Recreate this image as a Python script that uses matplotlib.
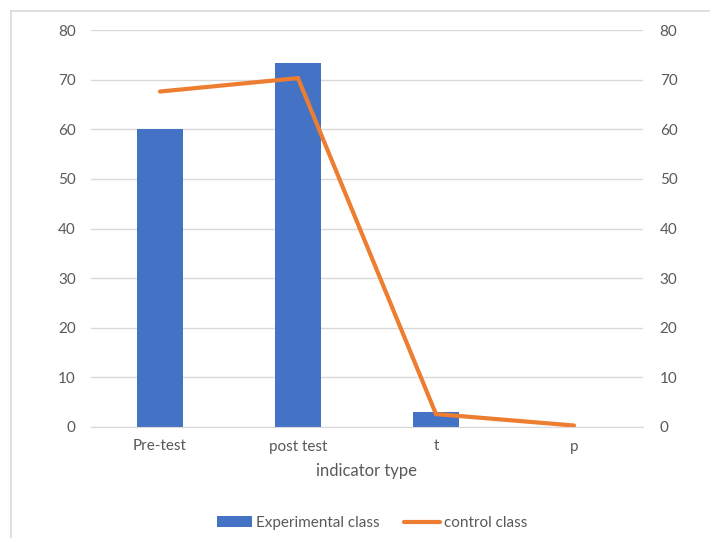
import matplotlib
matplotlib.use("Agg")
import matplotlib.pyplot as plt
from matplotlib.lines import Line2D

# data
categories = ["Pre-test", "post test", "t", "p"]
experimental = [60.0, 73.3, 3.0, 0.0]
control = [676, 703, 26, 3]
left_ticks = [0, 10, 20, 30, 40, 50, 60, 70, 80]
right_ticks = [0, 100, 200, 300, 400, 500, 600, 700, 800]
right_labels = ["0", "10", "20", "30", "40", "50", "60", "70", "80"]

BLUE = "#4472C4"
ORANGE = "#ED7D31"
GRID = "#D9D9D9"
TXT = "#595959"

plt.rcParams["font.family"] = ["Lato", "DejaVu Sans"]

fig = plt.figure(figsize=(7.10, 5.38), dpi=100)
ax = fig.add_axes([91 / 710, 1 - 427 / 538, 552 / 710, 397 / 538])
ax2 = ax.twinx()

x = list(range(len(categories)))
ax.bar(x, experimental, width=0.33, color=BLUE, label="Experimental class", zorder=2)
ax2.plot(x, control, color=ORANGE, lw=3.0, solid_capstyle="round",
         solid_joinstyle="miter", label="control class", zorder=3)

ax.set_xlim(-0.5, len(categories) - 0.5)
ax.set_ylim(0, 80)
ax2.set_ylim(0, 800)
ax.set_yticks(left_ticks)
ax.set_yticklabels([str(v) for v in left_ticks])
ax2.set_yticks(right_ticks)
ax2.set_yticklabels(right_labels)
ax.set_xticks(x)
ax.set_xticklabels(categories)

ax.grid(True, axis="y", color=GRID, lw=1.0, zorder=0)
ax.set_axisbelow(True)
for a in (ax, ax2):
    for s in a.spines.values():
        s.set_visible(False)
ax.spines["bottom"].set_visible(True)
ax.spines["bottom"].set_color(GRID)

ax.tick_params(axis="y", length=0, pad=11, labelsize=11, labelcolor=TXT)
ax2.tick_params(axis="y", length=0, pad=12, labelsize=11, labelcolor=TXT)
ax.tick_params(axis="x", length=0, pad=9, labelsize=11, labelcolor=TXT)
ax.set_xlabel("indicator type", fontsize=12, color=TXT, labelpad=7)

ax.set_zorder(ax2.get_zorder() - 1)
ax2.patch.set_visible(False)

h1, l1 = ax.get_legend_handles_labels()
h2, l2 = ax2.get_legend_handles_labels()
fig.legend(h1 + h2, l1 + l2, loc="center", bbox_to_anchor=(0.524, 0.028), ncol=2,
           frameon=False, fontsize=11, labelcolor=TXT, handlelength=2.3,
           handletextpad=0.3, columnspacing=1.6)

# outer chart border (left and top only visible in reference)
fig.add_artist(Line2D([10.5 / 710, 10.5 / 710], [0, 1 - 10.5 / 538], color=GRID, lw=1.2))
fig.add_artist(Line2D([10.5 / 710, 1], [1 - 10.5 / 538, 1 - 10.5 / 538], color=GRID, lw=1.2))

fig.savefig("out.png", dpi=100)
